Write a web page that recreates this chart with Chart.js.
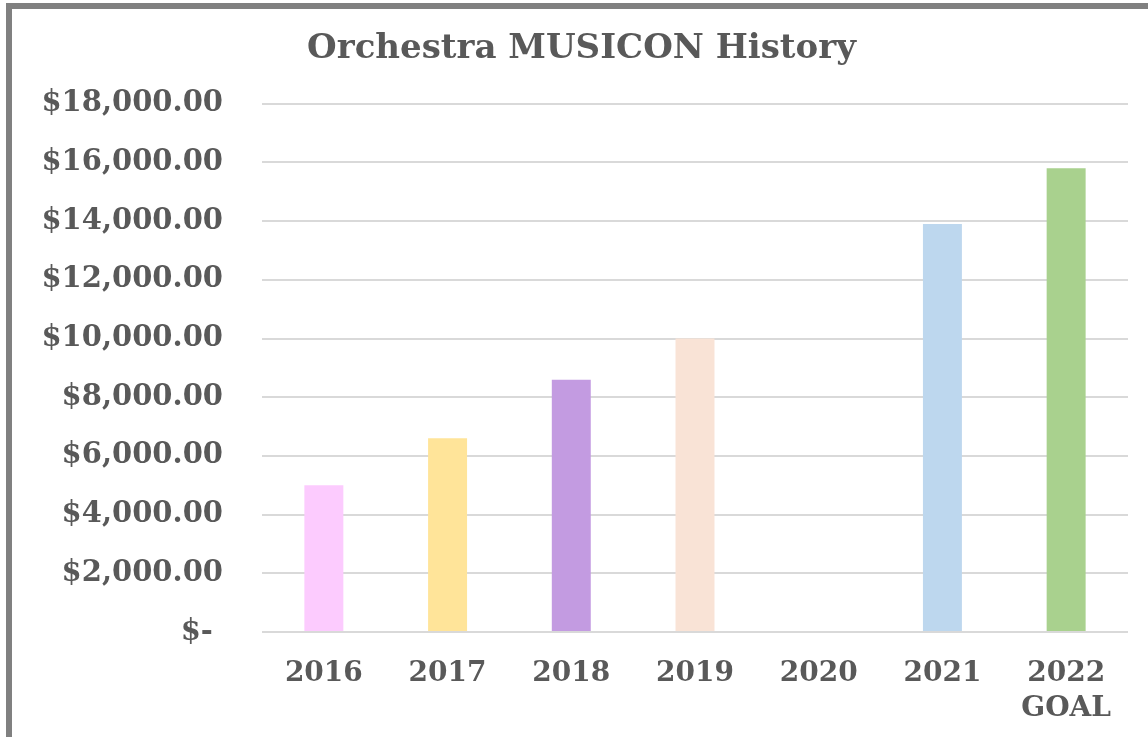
<!DOCTYPE html>
<html>
<head>
<meta charset="utf-8">
<script src="https://cdn.jsdelivr.net/npm/chart.js@4/dist/chart.umd.min.js"></script>
<style>
  html, body { margin: 0; padding: 0; background: #fff; overflow: hidden; }
  #frame { position: absolute; left: 6px; top: 3px; width: 2000px; height: 2000px; border: 6px solid #808080; box-sizing: border-box; }
  #lineChart { position: absolute; left: 0; top: 0; }
</style>
</head>
<body>
<div id="frame"></div>
<canvas id="lineChart" width="1148" height="737"></canvas>
<script>
const years = ['2016', '2017', '2018', '2019', '2020', '2021', ['2022', 'GOAL']];
const amounts = [5000, 6600, 8600, 10000, 0, 13900, 15800];
const barColors = ['#fccbfe', '#ffe499', '#c39be1', '#f9e3d6', '#d9d9d9', '#bdd7ee', '#a9d18e'];
const yTicks = [0, 2000, 4000, 6000, 8000, 10000, 12000, 14000, 16000, 18000];

const serif = "'DejaVu Serif', 'Liberation Serif', serif";
let ctx = document.getElementById("lineChart").getContext('2d');

let chart = new Chart(ctx, {
    type: 'bar',
    data: {
        labels: years,
        datasets: [{
            data: amounts,
            backgroundColor: barColors,
            borderWidth: 0,
            barPercentage: 0.315,
            categoryPercentage: 1
        }]
    },
    options: {
        responsive: false,
        animation: false,
        layout: { padding: { left: 35, right: 20, top: 0, bottom: 0 } },
        scales: {
            x: {
                grid: { display: false },
                border: { display: false },
                ticks: {
                    color: '#595959',
                    padding: 16,
                    maxRotation: 0,
                    autoSkip: false,
                    font: { family: serif, size: 28, weight: 'bold', lineHeight: 1.25 }
                },
                afterFit: function(s) { s.height = 105; }
            },
            y: {
                min: 0,
                max: 18000,
                afterBuildTicks: function(s) { s.ticks = yTicks.map(v => ({ value: v })); },
                grid: { color: '#d9d9d9', lineWidth: 2, drawTicks: false },
                border: { display: false },
                ticks: {
                    color: '#595959',
                    padding: 39,
                    font: { family: serif, size: 29, weight: 'bold' },
                    callback: function(value) {
                        if (value === 0) return '$-\u00a0';
                        return '$' + value.toLocaleString('en-US', { minimumFractionDigits: 2 });
                    }
                },
                afterFit: function(s) { s.width = 227; }
            }
        },
        plugins: {
            legend: { display: false },
            tooltip: { enabled: false },
            title: {
                display: true,
                text: 'Orchestra MUSICON History',
                color: '#595959',
                font: { family: serif, size: 34, weight: 'bold', lineHeight: 1.2 },
                padding: { top: 29, bottom: 34 }
            }
        }
    }
});
</script>
</body>
</html>
